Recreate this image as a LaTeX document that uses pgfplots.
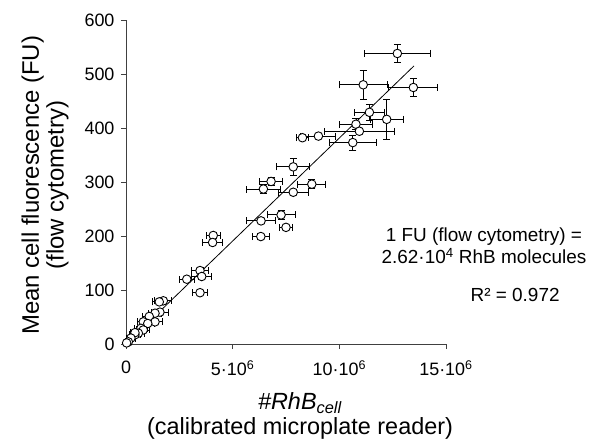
\documentclass[border=0pt]{standalone}
\usepackage{pgfplots}
\pgfplotsset{compat=1.18}
\usepackage{pgfplotstable}
\usepackage{fontspec}
\setmainfont{Liberation Sans}

\pgfplotstableread{
x y ex ey
12.72 538 1.55 16
13.47 475 1.15 16
11.12 480 1.13 27
11.41 429 0.70 15
12.22 416 0.77 37
10.78 407 0.77 10
10.94 394 1.66 5
10.63 373 1.09 14
9.02 385 0.82 5
8.27 382 0.30 3
7.84 328 0.78 16
6.80 301 0.53 7
6.44 287 0.78 9
8.71 296 0.65 8
7.84 281 0.69 4
7.27 239 0.66 8
6.33 228 0.69 4
7.50 216 0.30 4
6.32 199 0.39 6
4.09 201 0.33 6
4.06 188 0.47 5
3.47 136 0.40 6
3.55 125 0.47 5
2.85 120 0.35 4
3.47 95 0.37 4
1.75 80 0.40 4
1.56 78 0.30 3
1.59 59 0.38 5
1.36 57 0.30 4
1.09 51 0.30 3
1.36 41 0.35 4
0.81 41 0.25 3
1.02 38 0.30 4
0.70 29 0.30 3
0.81 26 0.30 3
0.58 20 0.30 3
0.42 17 0.25 3
0.42 21 0.20 2
0.23 11 0.20 2
0.11 4 0.15 2
0.03 2 0.10 2
}\data

\pgfplotstableread{
x y
0 0
13.5 515
}\fit

\begin{document}
\begin{tikzpicture}
\begin{axis}[
  at={(0,0)}, anchor=south west,
  scale only axis, width=320bp, height=324bp,
  xmin=0, xmax=15, ymin=0, ymax=600,
  axis x line*=bottom, axis y line*=left,
  axis line style={-, line width=0.9pt, black!75},
  tick align=outside, tick style={line width=0.9pt, black!75},
  major tick length=5bp,
  xtick={0,5,10,15},
  xticklabels={0, 5·10\textsuperscript{6}, 10·10\textsuperscript{6}, 15·10\textsuperscript{6}},
  ytick={0,100,...,600},
  /pgf/number format/assume math mode=true,
  tick label style={font=\fontsize{18}{21}\selectfont},
  xticklabel style={yshift=-8bp},
  yticklabel style={xshift=-3bp},
  clip=false,
  xlabel={\textit{\#RhB}\textsubscript{\textit{cell}}\\(calibrated microplate reader)},
  xlabel style={align=center, font=\fontsize{23.5}{25}\selectfont, at={(axis description cs:0.544,-0.222)}, anchor=center},
  ylabel={Mean cell fluorescence (FU)\\(flow cytometry)},
  ylabel style={align=center, font=\fontsize{24}{25}\selectfont, at={(axis description cs:-0.253,0.49)}, anchor=center, rotate=0},
]
\addplot[black, line width=0.8pt] table[x=x,y=y] {\fit};
\addplot[black, only marks, mark=*, mark size=4.3pt,
  mark options={fill=white, draw=black, line width=0.9pt},
  error bars/.cd, x dir=both, y dir=both, x explicit, y explicit,
  error bar style={line width=0.9pt, black},
  error mark options={rotate=90, mark size=3.5pt, line width=0.9pt, black}]
  table[x=x, y=y, x error=ex, y error=ey] {\data};
\node[align=center, font=\fontsize{19}{22}\selectfont] at (axis cs:16.78,181.5) {1 FU (flow cytometry) =\\2.62·10\textsuperscript{4} RhB molecules};
\node[font=\fontsize{19}{22}\selectfont] at (axis cs:18.24,90.7) {R² = 0.972};
\end{axis}
\pgfresetboundingbox
\path (-126bp,-95bp) rectangle (464bp,344bp);
\end{tikzpicture}
\end{document}
